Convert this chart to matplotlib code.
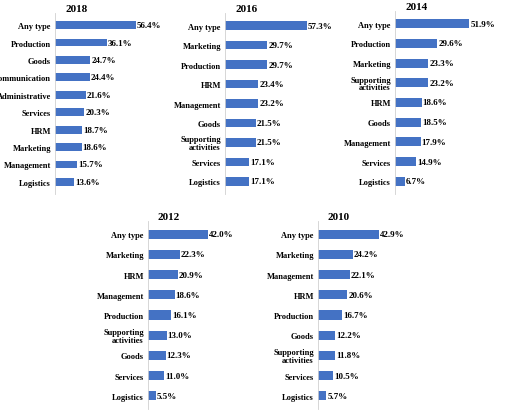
import matplotlib
matplotlib.use("Agg")
import matplotlib.pyplot as plt

cats_2018 = ["Any type","Production","Goods","Communication","Administrative","Services","HRM","Marketing","Management","Logistics"]
vals_2018 = [56.4,36.1,24.7,24.4,21.6,20.3,18.7,18.6,15.7,13.6]
cats_2016 = ["Any type","Marketing","Production","HRM","Management","Goods","Supporting\nactivities","Services","Logistics"]
vals_2016 = [57.3,29.7,29.7,23.4,23.2,21.5,21.5,17.1,17.1]
cats_2014 = ["Any type","Production","Marketing","Supporting\nactivities","HRM","Goods","Management","Services","Logistics"]
vals_2014 = [51.9,29.6,23.3,23.2,18.6,18.5,17.9,14.9,6.7]
cats_2012 = ["Any type","Marketing","HRM","Management","Production","Supporting\nactivities","Goods","Services","Logistics"]
vals_2012 = [42.0,22.3,20.9,18.6,16.1,13.0,12.3,11.0,5.5]
cats_2010 = ["Any type","Marketing","Management","HRM","Production","Goods","Supporting\nactivities","Services","Logistics"]
vals_2010 = [42.9,24.2,22.1,20.6,16.7,12.2,11.8,10.5,5.7]

plt.rcParams['font.family'] = ['Liberation Serif', 'DejaVu Serif']
W, H = 520, 414
fig = plt.figure(figsize=(5.2, 4.14), dpi=100)

panels = [
    ("2018", cats_2018, vals_2018, 55, 14, 195),
    ("2016", cats_2016, vals_2016, 225, 14, 195),
    ("2014", cats_2014, vals_2014, 395, 12, 195),
    ("2012", cats_2012, vals_2012, 148, 222, 410),
    ("2010", cats_2010, vals_2010, 318, 222, 410),
]
for title, cats, vals, x0, top, bot in panels:
    ax = fig.add_axes([x0 / W, 1 - bot / H, 100 / W, (bot - top) / H])
    y = list(range(len(cats)))
    ax.barh(y, vals, height=0.45, color="#4472C4")
    ax.set_yticks(y)
    ax.set_yticklabels(cats, fontsize=6, fontweight="bold", linespacing=0.9)
    ax.invert_yaxis()
    ax.set_xlim(0, 70)
    ax.set_xticks([])
    for s in ["top", "right", "bottom"]:
        ax.spines[s].set_visible(False)
    ax.spines["left"].set_color("#d0d0d0")
    ax.spines["left"].set_linewidth(0.6)
    ax.tick_params(axis="y", length=0, pad=3)
    for yi, v in zip(y, vals):
        ax.text(v + 0.8, yi, f"{v:.1f}%", va="center", ha="left", fontsize=6.5, fontweight="bold")
    ax.text(0.1, 1.0, title, transform=ax.transAxes, fontsize=8, fontweight="bold", ha="left", va="bottom")

fig.savefig("out.png", dpi=100)
